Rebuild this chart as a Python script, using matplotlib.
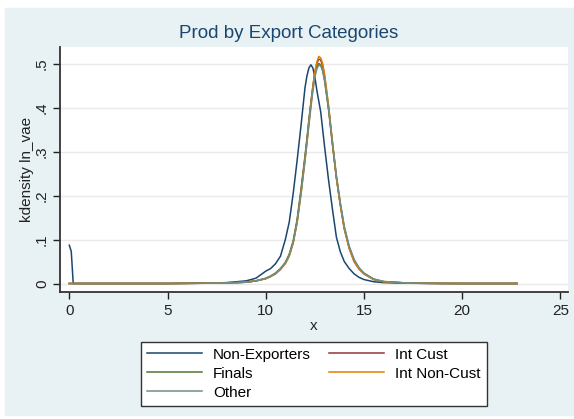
import numpy as np
import matplotlib
matplotlib.use("Agg")
import matplotlib.pyplot as plt
from matplotlib.patches import Rectangle

plt.rcParams["font.family"] = ["Liberation Sans", "DejaVu Sans"]

# kdensity curves
x = [0, 0.1, 0.2, 0.4, 1, 2, 3, 4, 5, 6, 7, 8, 8.5, 9, 9.5, 10, 10.25, 10.5, 10.75,
     11, 11.2, 11.4, 11.6, 11.8, 12.0, 12.1, 12.2, 12.3, 12.4, 12.5, 12.6, 12.7,
     12.8, 12.9, 13.0, 13.2, 13.4, 13.6, 13.8, 14.0, 14.25, 14.5, 14.75, 15,
     15.5, 16, 17, 18, 19, 20, 21, 22, 22.8]

non_exporters = [0.087, 0.073, 0.0, 0, 0, 0, 0, 0, 0, 0.0005, 0.001, 0.002, 0.004,
                 0.006, 0.012, 0.028, 0.034, 0.045, 0.062,
                 0.1, 0.14, 0.205, 0.28, 0.36, 0.445, 0.472, 0.49, 0.497, 0.49,
                 0.47, 0.44, 0.415, 0.39, 0.35, 0.31, 0.235, 0.168, 0.105, 0.072,
                 0.05, 0.034, 0.022, 0.014, 0.009, 0.004, 0.002, 0.0008, 0.0003,
                 0, 0, 0, 0, 0]
int_cust = [0, 0, 0, 0, 0, 0, 0, 0, 0, 0.0003, 0.0007, 0.0015, 0.002, 0.003, 0.006,
            0.011, 0.016, 0.022, 0.032, 0.046, 0.064, 0.093, 0.142, 0.21, 0.285,
            0.325, 0.37, 0.41, 0.448, 0.48, 0.5, 0.51, 0.508, 0.495, 0.47, 0.40,
            0.318, 0.24, 0.178, 0.124, 0.08, 0.05, 0.033, 0.022, 0.009, 0.004,
            0.0015, 0.0005, 0.0002, 0, 0, 0, 0]
finals = [0, 0, 0, 0, 0, 0, 0, 0, 0, 0.0003, 0.0007, 0.0015, 0.002, 0.003, 0.006,
          0.012, 0.017, 0.024, 0.034, 0.048, 0.067, 0.097, 0.146, 0.215, 0.29,
          0.33, 0.372, 0.41, 0.445, 0.475, 0.493, 0.5, 0.497, 0.484, 0.46, 0.395,
          0.315, 0.24, 0.18, 0.127, 0.083, 0.053, 0.035, 0.023, 0.01, 0.0045,
          0.0017, 0.0006, 0.0002, 0, 0, 0, 0]
int_non_cust = [0, 0, 0, 0, 0, 0, 0, 0, 0, 0.0003, 0.0007, 0.0015, 0.002, 0.003,
                0.006, 0.011, 0.016, 0.023, 0.032, 0.045, 0.062, 0.092, 0.138,
                0.205, 0.28, 0.32, 0.365, 0.405, 0.445, 0.48, 0.503, 0.516, 0.513,
                0.50, 0.475, 0.405, 0.32, 0.24, 0.178, 0.125, 0.08, 0.05, 0.033,
                0.022, 0.009, 0.004, 0.0015, 0.0005, 0.0002, 0, 0, 0, 0]
other = [0, 0, 0, 0, 0, 0, 0, 0, 0, 0.0003, 0.0007, 0.0015, 0.002, 0.003, 0.006,
         0.011, 0.016, 0.023, 0.033, 0.047, 0.065, 0.094, 0.14, 0.205, 0.28,
         0.32, 0.36, 0.4, 0.437, 0.468, 0.487, 0.496, 0.495, 0.484, 0.462, 0.398,
         0.32, 0.245, 0.184, 0.13, 0.085, 0.055, 0.036, 0.024, 0.01, 0.0045,
         0.0017, 0.0006, 0.0002, 0, 0, 0, 0]

xticks = [0, 5, 10, 15, 20, 25]
yticks = [0, 0.1, 0.2, 0.3, 0.4, 0.5]
ytick_labels = ["0", ".1", ".2", ".3", ".4", ".5"]

FS = 11
W, H = 574, 419

fig = plt.figure(figsize=(W / 100, H / 100), dpi=100, facecolor="white")
# stata graph region
fig.patches.append(Rectangle((5 / W, 1 - 415 / H), 569 / W, 407 / H,
                             transform=fig.transFigure, color="#e8f1f3", zorder=-10))

ax = fig.add_axes([60 / W, 1 - 292 / H, 508 / W, 245 / H])
ax.set_facecolor("white")

lw = 1.1
ax.plot(x, non_exporters, color="#1a476f", lw=lw, label="Non-Exporters")
ax.plot(x, int_cust, color="#90353b", lw=lw, label="Int Cust")
ax.plot(x, finals, color="#55752f", lw=lw, label="Finals")
ax.plot(x, int_non_cust, color="#e37e00", lw=lw, label="Int Non-Cust")
ax.plot(x, other, color="#6e8e84", lw=lw, label="Other")

ax.set_xlim(-0.473, 25.39)
ax.set_ylim(-0.0193, 0.5375)
ax.set_xticks(xticks)
ax.set_yticks(yticks)
ax.set_yticklabels(ytick_labels, rotation=90, va="center")
ax.tick_params(labelsize=FS, colors="#222222", length=5, width=1)
ax.tick_params(axis="y", pad=3)
ax.grid(axis="y", color="#eaeaea", lw=1)
ax.set_axisbelow(True)
for s in ["top", "right"]:
    ax.spines[s].set_visible(False)
for s in ["left", "bottom"]:
    ax.spines[s].set_color("#333333")
    ax.spines[s].set_linewidth(1.3)

ax.set_xlabel("x", fontsize=FS, color="#222222", labelpad=1)
ax.set_ylabel("kdensity ln_vae", fontsize=FS, color="#222222", va="center")
ax.yaxis.set_label_coords(-33 / 508, 0.5)
fig.text(289 / W, 1 - 33 / H, "Prod by Export Categories", ha="center",
         va="center", fontsize=13.5, color="#1a476f")

h, l = ax.get_legend_handles_labels()
order = [0, 2, 4, 1, 3]
leg = fig.legend([h[i] for i in order], [l[i] for i in order], ncol=2,
                 loc="upper center", bbox_to_anchor=(314 / W, 1 - 334 / H),
                 fontsize=FS, frameon=True, fancybox=False, handlelength=3.6,
                 handletextpad=0.7, labelspacing=0.32, columnspacing=1.2,
                 borderpad=0.4, framealpha=1)
leg.get_frame().set_edgecolor("#333333")
leg.get_frame().set_linewidth(1)

fig.savefig("out.png", dpi=100, facecolor="white")
